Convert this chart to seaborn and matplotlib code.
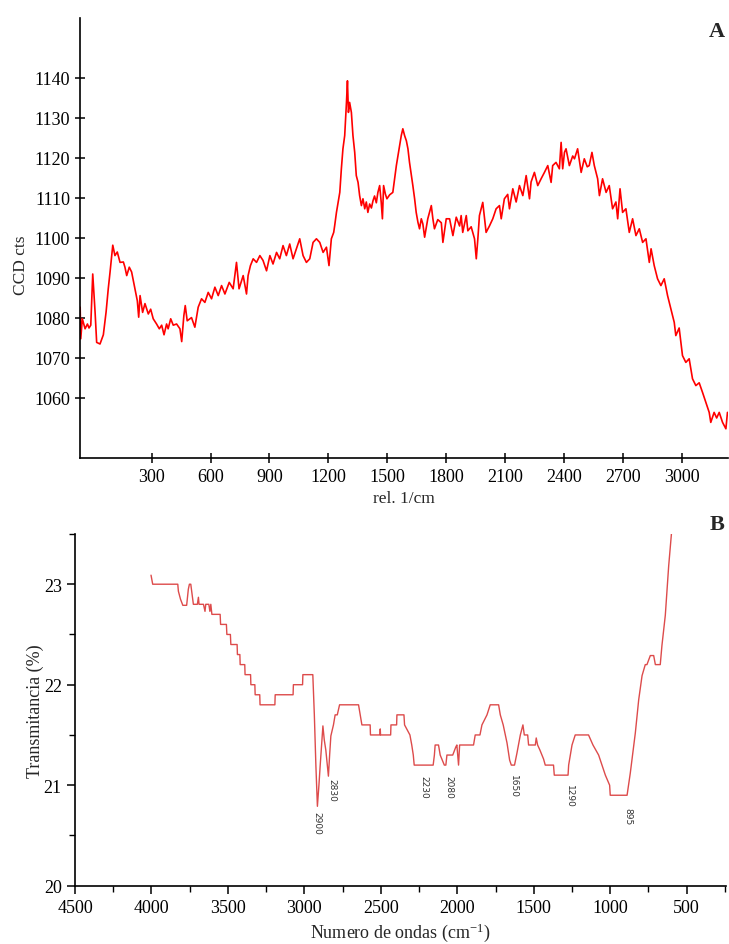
import numpy as np
import pandas as pd
import matplotlib
matplotlib.use('Agg')
import matplotlib.pyplot as plt
from matplotlib.ticker import MultipleLocator
import seaborn as sns

# Panel A: Raman spectrum (rel. 1/cm vs CCD counts)
raman_shift = [
    -64, -61, -53, -39, -27, -19, -10, 0, 12, 20, 37, 54, 68, 79, 88, 102, 113, 125, 139, 156,
    164, 173, 186, 198, 215, 227, 234, 241, 254, 266, 283, 295, 308, 325, 339, 351, 363, 376, 384, 397,
    410, 427, 444, 453, 464, 471, 481, 503, 520, 537, 554, 571, 588, 605, 622, 639, 656, 673, 695, 715,
    732, 745, 766, 783, 791, 803, 817, 834, 851, 867, 885, 902, 918, 936, 952, 969, 986, 1003, 1020, 1037,
    1054, 1071, 1088, 1105, 1122, 1139, 1156, 1173, 1190, 1203, 1215, 1227, 1232, 1241, 1258, 1266, 1274, 1283, 1292, 1297,
    1302, 1308, 1317, 1325, 1334, 1342, 1351, 1359, 1368, 1376, 1385, 1393, 1401, 1410, 1419, 1427, 1435, 1444, 1452, 1461,
    1469, 1475, 1481, 1490, 1498, 1512, 1528, 1537, 1546, 1557, 1571, 1579, 1588, 1597, 1605, 1613, 1630, 1639, 1647, 1656,
    1664, 1673, 1681, 1690, 1706, 1724, 1732, 1740, 1757, 1775, 1783, 1800, 1817, 1834, 1851, 1868, 1876, 1884, 1902, 1910,
    1927, 1944, 1953, 1961, 1969, 1986, 1995, 2003, 2020, 2037, 2054, 2071, 2080, 2096, 2113, 2122, 2139, 2156, 2173, 2190,
    2207, 2224, 2232, 2249, 2266, 2283, 2300, 2317, 2334, 2342, 2359, 2376, 2385, 2393, 2402, 2410, 2427, 2444, 2453, 2469,
    2487, 2503, 2518, 2528, 2542, 2554, 2571, 2580, 2596, 2614, 2630, 2647, 2664, 2673, 2685, 2698, 2715, 2732, 2749, 2766,
    2783, 2800, 2817, 2834, 2843, 2859, 2876, 2893, 2910, 2927, 2944, 2961, 2969, 2986, 3003, 3020, 3037, 3054, 3071, 3088,
    3105, 3122, 3139, 3147, 3164, 3177, 3190, 3207, 3224, 3232,
]
ccd_counts = [
    1082.7, 1074.8, 1079.8, 1077.3, 1078.5, 1077.5, 1078.2, 1091.0, 1081.4, 1073.9, 1073.5, 1075.8, 1081.5, 1087.3, 1091.4, 1098.2, 1095.6, 1096.5, 1093.9, 1094.0,
    1092.7, 1090.6, 1092.7, 1091.5, 1087.3, 1084.3, 1080.2, 1085.6, 1081.4, 1083.6, 1081.0, 1082.2, 1079.8, 1078.5, 1077.3, 1078.2, 1075.8, 1078.5, 1077.3, 1079.8,
    1078.2, 1078.5, 1077.3, 1074.1, 1080.6, 1083.1, 1079.3, 1080.1, 1077.7, 1082.7, 1084.8, 1083.9, 1086.4, 1084.8, 1087.7, 1085.6, 1088.1, 1086.0, 1088.9, 1087.3,
    1093.9, 1087.3, 1090.6, 1086.0, 1090.6, 1093.1, 1094.8, 1093.9, 1095.6, 1094.4, 1091.8, 1095.6, 1093.5, 1096.4, 1094.8, 1098.1, 1095.6, 1098.5, 1094.8, 1097.3,
    1099.8, 1095.6, 1093.9, 1094.8, 1098.9, 1099.8, 1098.9, 1096.4, 1097.7, 1093.1, 1099.8, 1101.4, 1103.1, 1106.4, 1111.4, 1117.3, 1122.3, 1125.6, 1133.9, 1139.3,
    1131.4, 1133.9, 1131.4, 1125.6, 1121.4, 1115.6, 1113.9, 1110.6, 1108.1, 1109.8, 1107.3, 1109.0, 1106.4, 1108.5, 1107.5, 1109.3, 1110.5, 1108.8, 1111.4, 1113.1,
    1108.9, 1104.8, 1113.1, 1111.0, 1109.8, 1110.8, 1111.4, 1114.8, 1118.1, 1121.4, 1125.6, 1127.3, 1125.6, 1124.3, 1122.3, 1118.9, 1113.1, 1109.8, 1106.4, 1103.9,
    1102.3, 1104.8, 1103.5, 1100.2, 1104.8, 1108.1, 1104.8, 1102.3, 1104.6, 1103.8, 1098.9, 1104.8, 1104.8, 1100.6, 1105.2, 1103.0, 1105.6, 1101.4, 1105.6, 1101.8,
    1102.8, 1099.8, 1094.8, 1099.8, 1105.6, 1108.9, 1104.8, 1101.4, 1103.0, 1104.8, 1107.3, 1108.1, 1104.8, 1109.8, 1110.9, 1107.3, 1112.3, 1109.0, 1113.1, 1110.6,
    1115.6, 1109.8, 1114.0, 1116.4, 1113.1, 1114.8, 1116.4, 1118.1, 1113.9, 1118.1, 1118.9, 1117.3, 1123.9, 1117.3, 1121.4, 1122.3, 1118.1, 1120.5, 1119.8, 1122.3,
    1116.4, 1119.8, 1117.8, 1118.1, 1121.4, 1118.1, 1114.8, 1110.6, 1114.8, 1111.4, 1113.1, 1107.3, 1109.0, 1104.8, 1112.3, 1106.4, 1107.3, 1101.4, 1104.8, 1100.6,
    1102.3, 1098.9, 1099.8, 1093.9, 1097.3, 1093.1, 1089.8, 1088.1, 1089.8, 1085.6, 1082.3, 1078.9, 1075.6, 1077.5, 1070.6, 1068.9, 1069.8, 1064.8, 1063.1, 1063.8,
    1061.4, 1058.9, 1056.4, 1053.9, 1056.4, 1055.0, 1056.4, 1053.9, 1052.3, 1056.4,
]

# Panel B: FTIR spectrum (wavenumber vs transmittance %)
wavenumber = [
    4003, 3992, 3828, 3824, 3810, 3795, 3770, 3759, 3752, 3743, 3726, 3700, 3693, 3689, 3660, 3650, 3645, 3625, 3618, 3612,
    3605, 3551, 3548, 3510, 3507, 3484, 3481, 3440, 3438, 3422, 3420, 3390, 3388, 3352, 3350, 3324, 3322, 3292, 3290, 3193,
    3191, 3074, 3072, 3012, 3010, 2945, 2935, 2925, 2915, 2905, 2897, 2885, 2879, 2870, 2860, 2850, 2843, 2835, 2827, 2810,
    2799, 2785, 2770, 2646, 2635, 2624, 2570, 2568, 2506, 2504, 2502, 2436, 2434, 2397, 2395, 2349, 2345, 2310, 2298, 2288,
    2282, 2158, 2150, 2145, 2123, 2112, 2085, 2075, 2068, 2030, 2010, 2003, 1995, 1992, 1985, 1894, 1883, 1852, 1839, 1806,
    1785, 1730, 1719, 1700, 1675, 1658, 1647, 1626, 1610, 1588, 1571, 1562, 1540, 1534, 1490, 1484, 1475, 1460, 1436, 1425,
    1371, 1366, 1276, 1272, 1250, 1229, 1142, 1113, 1076, 1054, 1032, 1004, 1000, 890, 869, 836, 814, 792, 771, 760,
    738, 716, 705, 673, 662, 640, 618, 600,
]
transmittance = [
    23.09, 23.00, 23.00, 22.93, 22.85, 22.79, 22.79, 22.95, 23.00, 23.00, 22.80, 22.80, 22.87, 22.80, 22.80, 22.73, 22.80, 22.80, 22.73, 22.80,
    22.70, 22.70, 22.60, 22.60, 22.50, 22.50, 22.40, 22.40, 22.30, 22.30, 22.20, 22.20, 22.10, 22.10, 22.00, 22.00, 21.90, 21.90, 21.80, 21.80,
    21.90, 21.90, 22.00, 22.00, 22.10, 22.10, 21.70, 21.20, 20.79, 21.00, 21.19, 21.45, 21.59, 21.45, 21.35, 21.20, 21.09, 21.30, 21.49, 21.60,
    21.70, 21.70, 21.80, 21.80, 21.70, 21.60, 21.60, 21.50, 21.50, 21.56, 21.50, 21.50, 21.60, 21.60, 21.70, 21.70, 21.60, 21.50, 21.40, 21.30,
    21.20, 21.20, 21.30, 21.40, 21.40, 21.30, 21.20, 21.20, 21.30, 21.30, 21.38, 21.40, 21.25, 21.20, 21.40, 21.40, 21.50, 21.50, 21.60, 21.70,
    21.80, 21.80, 21.70, 21.60, 21.42, 21.25, 21.20, 21.20, 21.32, 21.50, 21.60, 21.50, 21.50, 21.40, 21.40, 21.47, 21.40, 21.35, 21.26, 21.20,
    21.20, 21.10, 21.10, 21.20, 21.40, 21.50, 21.50, 21.40, 21.30, 21.20, 21.10, 21.00, 20.90, 20.90, 21.12, 21.52, 21.85, 22.09, 22.20, 22.20,
    22.29, 22.29, 22.20, 22.20, 22.39, 22.69, 23.18, 23.50,
]

# peak labels on panel B
peak_labels = ['2900', '2830', '2230', '2080', '1650', '1290', '895']
peak_label_x = [2919, 2820, 2221, 2053, 1632, 1268, 882]
peak_label_y = [20.74, 21.07, 21.10, 21.10, 21.11, 21.01, 20.78]

df_a = pd.DataFrame({'shift': raman_shift, 'counts': ccd_counts})
df_b = pd.DataFrame({'wn': wavenumber, 'T': transmittance})

sns.set_style('ticks')
plt.rcParams['font.family'] = ['Liberation Serif', 'DejaVu Serif']
plt.rcParams['mathtext.fontset'] = 'custom'
plt.rcParams['mathtext.rm'] = 'Liberation Serif'
plt.rcParams['mathtext.default'] = 'regular'
plt.rcParams['axes.edgecolor'] = 'black'
plt.rcParams['xtick.color'] = 'black'
plt.rcParams['ytick.color'] = 'black'

fig = plt.figure(figsize=(7.29, 9.45), dpi=100)
ax1 = fig.add_axes([0.1097, 0.5143, 0.889, 0.4656])
ax2 = fig.add_axes([0.1029, 0.0617, 0.893, 0.3722])

# ---- Panel A
sns.lineplot(data=df_a, x='shift', y='counts', ax=ax1, color='#ff0000', lw=1.2,
             sort=False, estimator=None)
ax1.set_xlim(-65, 3235)
ax1.set_ylim(1045, 1155)
ax1.set_xticks(range(300, 3001, 300))
ax1.set_yticks(range(1060, 1141, 10))
ax1.tick_params(direction='inout', length=7, width=1.1, labelsize=13, colors='black')
ax1.set_xlabel('rel. 1/cm', fontsize=12.5)
ax1.set_ylabel('CCD cts', fontsize=12.5)
ax1.yaxis.set_label_coords(-0.079, 0.44)
ax1.xaxis.set_label_coords(0.5, -0.072)
sns.despine(ax=ax1)
for s in ['left', 'bottom']:
    ax1.spines[s].set_linewidth(1.2)
fig.text(0.9835, 0.966, 'A', fontsize=16, fontweight='bold', ha='center', va='center')

# ---- Panel B
sns.lineplot(data=df_b, x='wn', y='T', ax=ax2, color='#dd4b4b', lw=1.0,
             sort=False, estimator=None)
ax2.set_xlim(4500, 243)
ax2.set_ylim(20, 23.5)
ax2.set_xticks(range(4500, 499, -500))
ax2.set_yticks([20, 21, 22, 23])
ax2.xaxis.set_minor_locator(MultipleLocator(250))
ax2.yaxis.set_minor_locator(MultipleLocator(0.5))
ax2.tick_params(which='major', direction='out', length=6, width=1.1, labelsize=13, colors='black')
ax2.tick_params(which='minor', direction='out', length=4, width=1.0, colors='black')
ax2.set_xlabel('Numero de ondas (cm$^{-1}$)', fontsize=13)
ax2.set_ylabel('Transmitancia (%)', fontsize=13)
ax2.yaxis.set_label_coords(-0.048, 0.5)
ax2.xaxis.set_label_coords(0.5, -0.1)
sns.despine(ax=ax2)
for s in ['left', 'bottom']:
    ax2.spines[s].set_linewidth(1.2)

for lab, px, py in zip(peak_labels, peak_label_x, peak_label_y):
    ax2.text(px, py, lab, rotation=-90, ha='center', va='top', fontsize=6.5,
             color='#333333', family='DejaVu Sans')

fig.text(0.9835, 0.4444, 'B', fontsize=16, fontweight='bold', ha='center', va='center')

fig.savefig('out.png', dpi=100)
